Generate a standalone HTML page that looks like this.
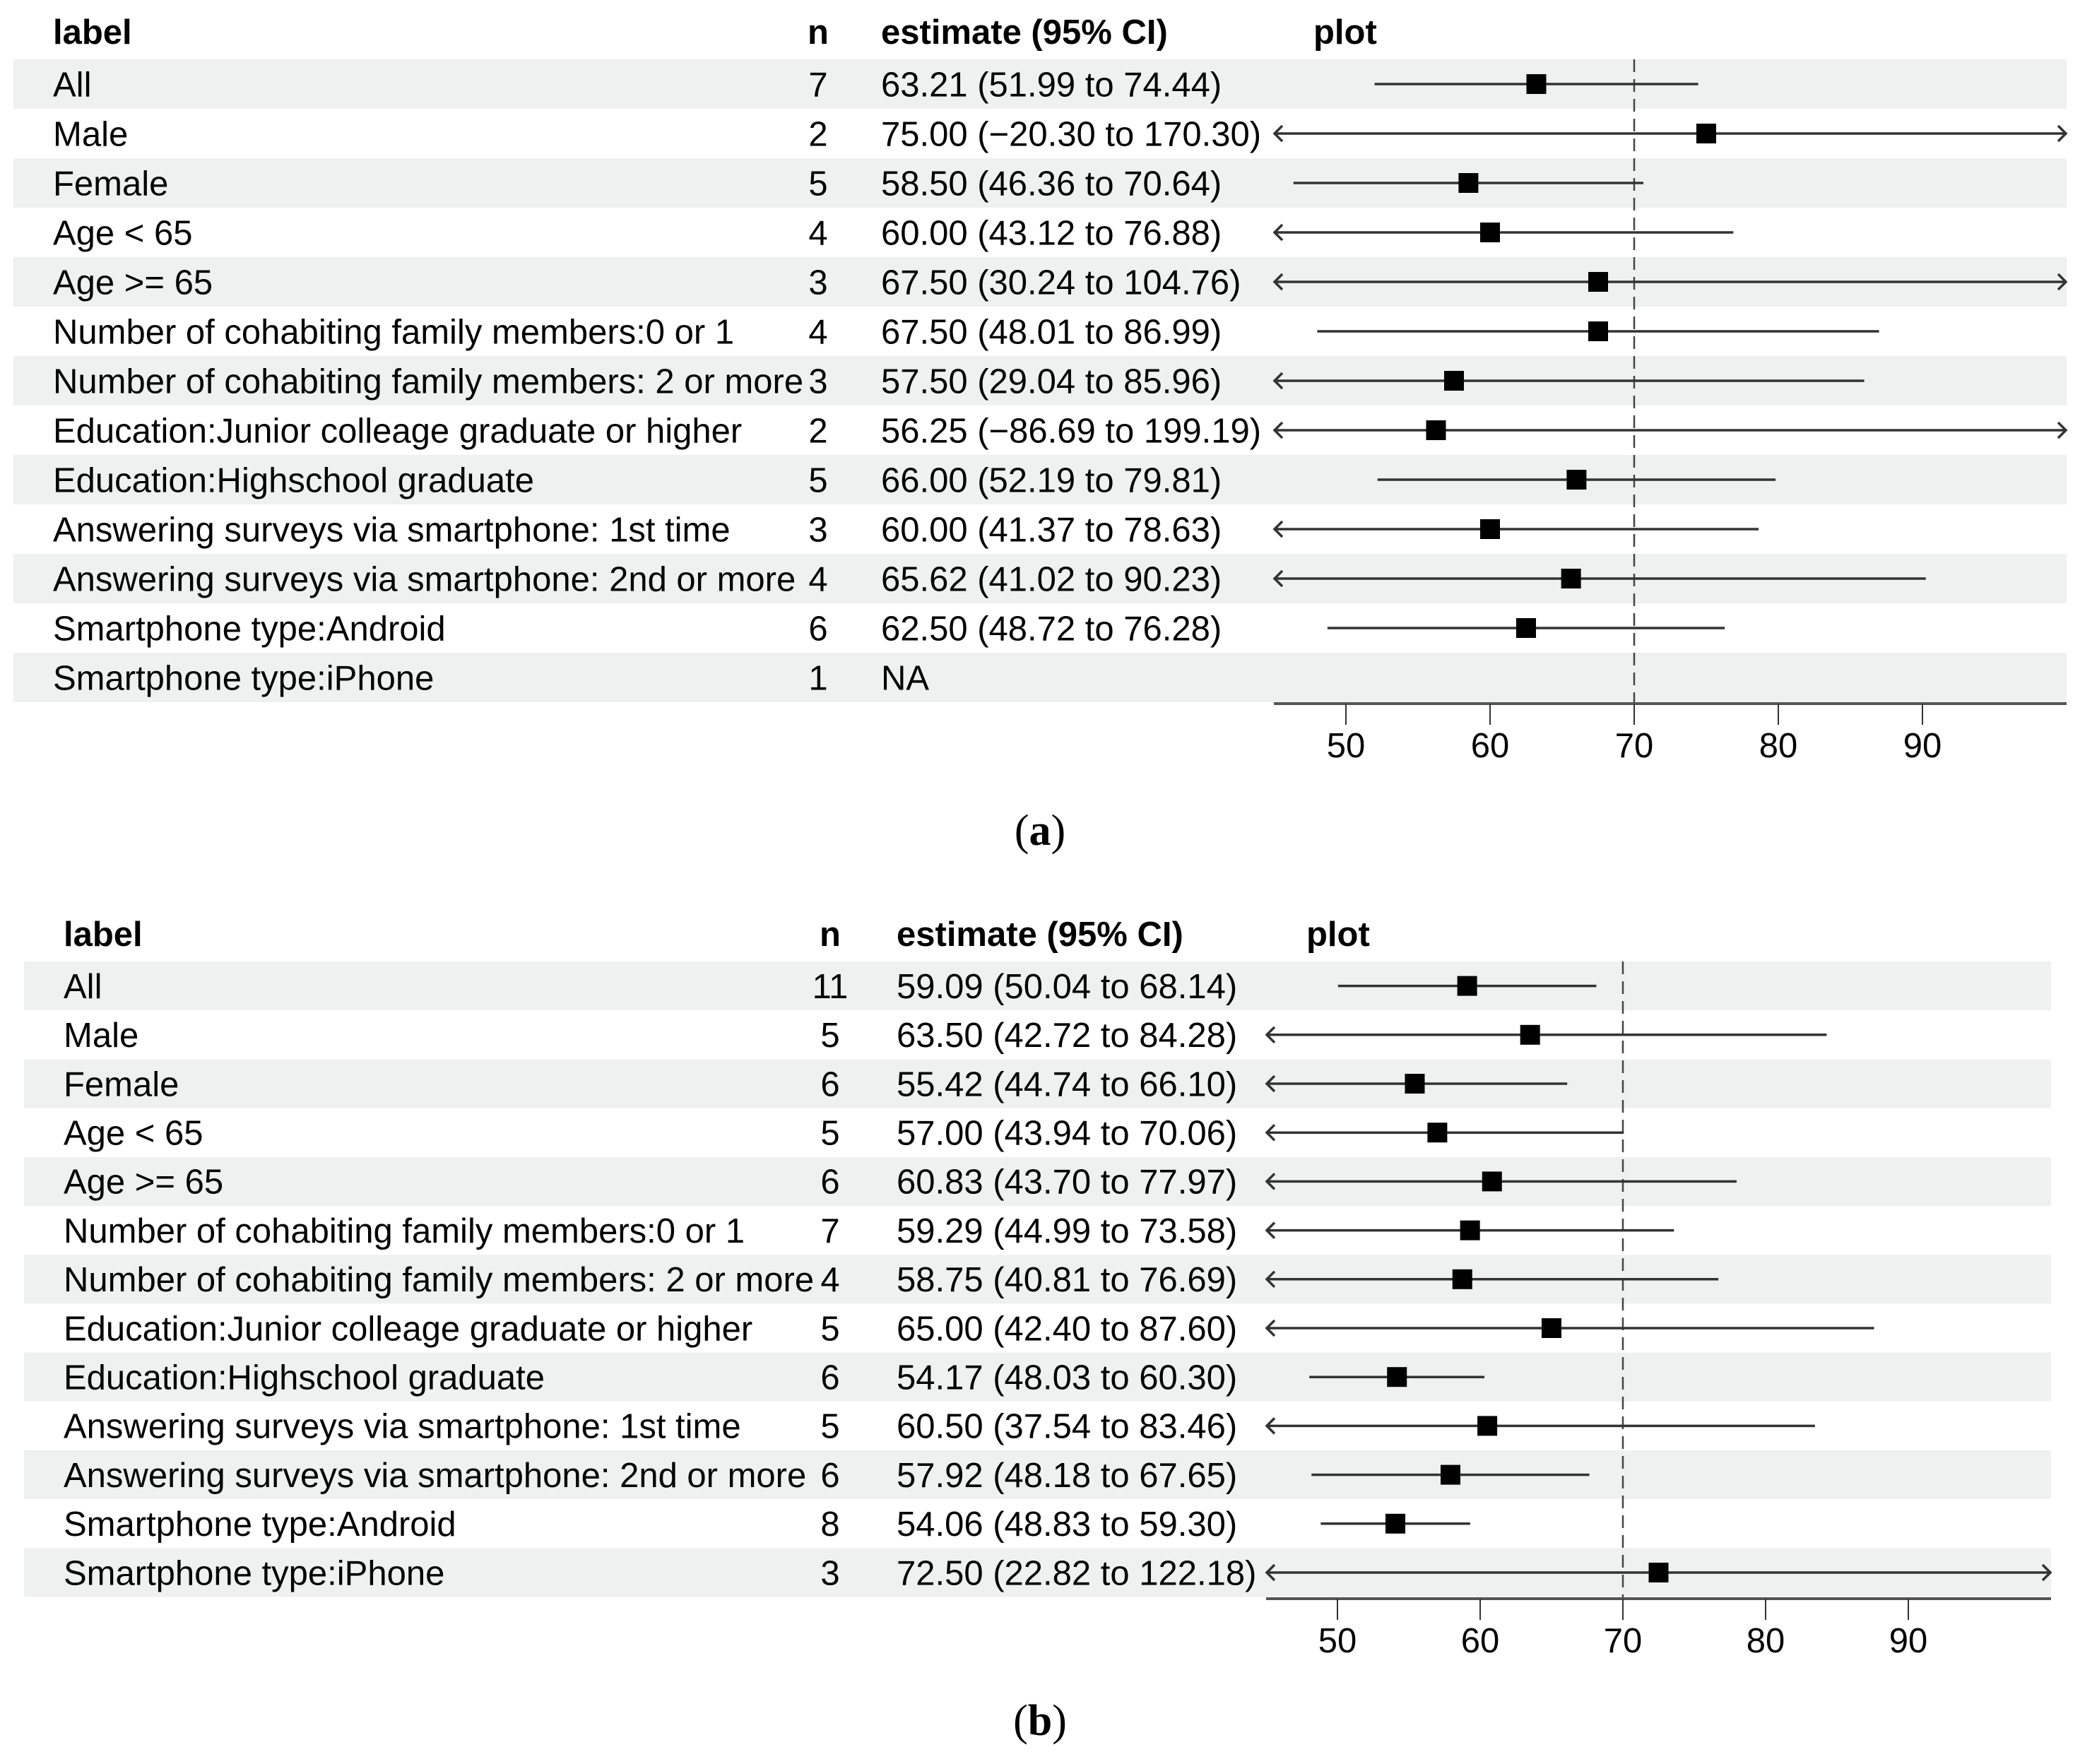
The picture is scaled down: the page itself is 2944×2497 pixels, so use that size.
<!DOCTYPE html>
<html><head><meta charset="utf-8">
<style>
body{margin:0;background:#fff;}
svg{display:block;font-family:"Liberation Sans",Arial,sans-serif;}
</style></head>
<body>
<svg id="chart" width="2944" height="2497" viewBox="0 0 2944 2497">
<text x="1472" y="1196" text-anchor="middle" font-family="Liberation Serif,serif" font-size="62">(<tspan font-weight="bold">a</tspan>)</text>
<text x="1472" y="2456" text-anchor="middle" font-family="Liberation Serif,serif" font-size="62">(<tspan font-weight="bold">b</tspan>)</text>
</svg>
<script>
const labels = ["All","Male","Female","Age < 65","Age >= 65","Number of cohabiting family members:0 or 1","Number of cohabiting family members: 2 or more","Education:Junior colleage graduate or higher","Education:Highschool graduate","Answering surveys via smartphone: 1st time","Answering surveys via smartphone: 2nd or more","Smartphone type:Android","Smartphone type:iPhone"];
const tickValues = [50,60,70,80,90];
const refValue = 70;
const nA = [7,2,5,4,3,4,3,2,5,3,4,6,1];
const estA = [63.21,75.00,58.50,60.00,67.50,67.50,57.50,56.25,66.00,60.00,65.62,62.50,null];
const loA = [51.99,-20.30,46.36,43.12,30.24,48.01,29.04,-86.69,52.19,41.37,41.02,48.72,null];
const hiA = [74.44,170.30,70.64,76.88,104.76,86.99,85.96,199.19,79.81,78.63,90.23,76.28,null];
const nB = [11,5,6,5,6,7,4,5,6,5,6,8,3];
const estB = [59.09,63.50,55.42,57.00,60.83,59.29,58.75,65.00,54.17,60.50,57.92,54.06,72.50];
const loB = [50.04,42.72,44.74,43.94,43.70,44.99,40.81,42.40,48.03,37.54,48.18,48.83,22.82];
const hiB = [68.14,84.28,66.10,70.06,77.97,73.58,76.69,87.60,60.30,83.46,67.65,59.30,122.18];

const NS='http://www.w3.org/2000/svg';
const svg=document.getElementById('chart');
const FS=49;
function mk(tag,attrs,parent){const e=document.createElementNS(NS,tag);for(const k in attrs)e.setAttribute(k,attrs[k]);(parent||svg).appendChild(e);return e;}
function fmt(v){return (v<0?'\u2212':'')+Math.abs(v).toFixed(2);}

function panel(p,id,n,est,lo,hi){
  const g=mk('g',{});
  
  
  const xmin=45,xmax=100;
  const x=v=>p.x0+(v-xmin)/(xmax-xmin)*(p.x1-p.x0);
  const rowTop=i=>p.top+i*p.rh;
  [['label',p.lx,'start'],['n',p.nx,'middle'],['estimate (95% CI)',p.ex,'start'],['plot',p.px,'start']].forEach(h=>{
    const t=mk('text',{x:h[1],y:p.top-22,'font-size':FS,'font-weight':'bold','text-anchor':h[2]},g);
    t.textContent=h[0];
    
    
  });
  labels.forEach((lab,i)=>{
    const y0=rowTop(i);
    if(i%2===0){
      const r=mk('rect',{x:p.bx,y:y0,width:p.x1-p.bx,height:p.rh,fill:'#eff1f1'},g);
      
      
    }
    const by=y0+p.rh*0.75;
    const t1=mk('text',{x:p.lx,y:by,'font-size':FS},g);t1.textContent=lab;
    
    
    const t2=mk('text',{x:p.nx,y:by,'font-size':FS,'text-anchor':'middle'},g);t2.textContent=n[i];
    
    
    const t3=mk('text',{x:p.ex,y:by,'font-size':FS},g);
    t3.textContent=est[i]==null?'NA':est[i].toFixed(2)+' ('+fmt(lo[i])+' to '+fmt(hi[i])+')';
    
    
  });
  const rl=mk('line',{x1:x(refValue),x2:x(refValue),y1:p.top,y2:p.axisY,stroke:'#444','stroke-width':2.5,'stroke-dasharray':'18,10'},g);
  
  
  labels.forEach((lab,i)=>{
    if(est[i]==null)return;
    const cy=rowTop(i)+p.rh/2;
    const a=Math.max(lo[i],xmin),b=Math.min(hi[i],xmax);
    const ln=mk('line',{x1:x(a),x2:x(b),y1:cy,y2:cy,stroke:'#333','stroke-width':3.5},g);
    
    
    if(lo[i]<xmin){
      const ar=mk('polyline',{points:`${x(xmin)+12},${cy-11} ${x(xmin)+1},${cy} ${x(xmin)+12},${cy+11}`,fill:'none',stroke:'#333','stroke-width':3.5},g);
      
      
    }
    if(hi[i]>xmax){
      const ar=mk('polyline',{points:`${x(xmax)-12},${cy-11} ${x(xmax)-1},${cy} ${x(xmax)-12},${cy+11}`,fill:'none',stroke:'#333','stroke-width':3.5},g);
      
      
    }
    const s=mk('rect',{x:x(est[i])-14,y:cy-14,width:28,height:28,fill:'#000'},g);
    
    
  });
  const ax=mk('line',{x1:p.x0,x2:p.x1,y1:p.axisY,y2:p.axisY,stroke:'#555','stroke-width':4},g);
  
  
  tickValues.forEach(v=>{
    const tk=mk('line',{x1:x(v),x2:x(v),y1:p.axisY,y2:p.axisY+30,stroke:'#333','stroke-width':2},g);
    
    
    const tl=mk('text',{x:x(v),y:p.axisY+76,'font-size':FS,'text-anchor':'middle'},g);
    tl.textContent=v;
    
    
  });
}
panel({top:84,rh:70,bx:19,lx:75,nx:1158,ex:1247,px:1859,x0:1803,x1:2925,axisY:996},'panel-a',nA,estA,loA,hiA);
panel({top:1361,rh:69.2,bx:34,lx:90,nx:1175,ex:1269,px:1849,x0:1792,x1:2903,axisY:2263},'panel-b',nB,estB,loB,hiB);
</script>
</body></html>
